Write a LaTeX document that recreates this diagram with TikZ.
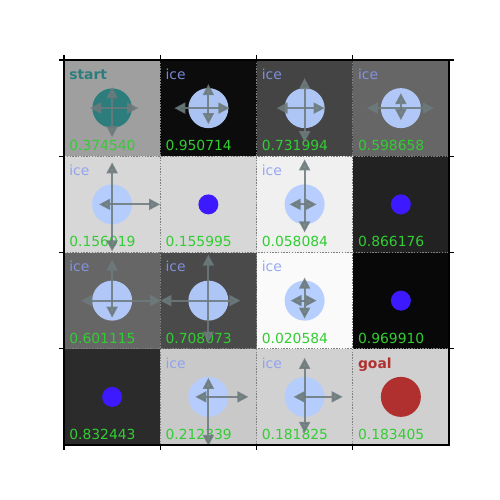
\documentclass[tikz,border=0pt]{standalone}
\usepackage{fontspec}
\setmainfont{DejaVu Sans}
\usepackage{xcolor}
\definecolor{startteal}{RGB}{46,125,125}
\definecolor{goalred}{RGB}{176,48,48}
\definecolor{holeblue}{RGB}{60,25,255}
\definecolor{icefill}{RGB}{180,205,255}
\definecolor{icetext}{RGB}{135,155,245}
\definecolor{valgreen}{RGB}{50,205,50}
\definecolor{arrowgray}{RGB}{108,122,124}
\usepackage{tikz}
\usetikzlibrary{arrows.meta}

\begin{document}
\begin{tikzpicture}[
  x=0.72pt, y=-0.72pt,
  font=\fontsize{10}{12}\selectfont,
  val/.style={anchor=base west,inner sep=0pt,text=valgreen},
  icelbl/.style={anchor=base west,inner sep=0pt,text=icetext,text opacity=0.85},
  startlbl/.style={anchor=base west,inner sep=0pt,text=startteal,font=\fontsize{10}{12}\selectfont\bfseries},
  goallbl/.style={anchor=base west,inner sep=0pt,text=goalred,font=\fontsize{10}{12}\selectfont\bfseries},
  icedisc/.style={fill=icefill,fill opacity=0.95},
  mv/.style={-{Triangle[length=8pt,width=8pt]},line width=1.5pt,draw=arrowgray,fill=arrowgray,opacity=0.85},
  gridln/.style={draw=gray,line width=0.5pt,dash pattern=on 1pt off 1pt},
  axtick/.style={draw=black,line width=0.8pt},
]
\useasboundingbox (0,0) rectangle (500,500);

% cell shading and values
\foreach \r/\c/\v in {0/0/0.374540,0/1/0.950714,0/2/0.731994,0/3/0.598658,
                      1/0/0.156019,1/1/0.155995,1/2/0.058084,1/3/0.866176,
                      2/0/0.601115,2/1/0.708073,2/2/0.020584,2/3/0.969910,
                      3/0/0.832443,3/1/0.212339,3/2/0.181825,3/3/0.183405}{
  \pgfmathsetmacro\gv{100*\v}
  \fill[black!\gv!white] ({64+96.25*\c},{60+96.25*\r}) rectangle ++(96.25,96.25);
  \node[val] (v\r\c) at ({69+96.25*\c},{150.7+96.25*\r}) {\v};
}

% dotted cell borders
\foreach \k in {1,2,3}{
  \draw[gridln] ({64+96.25*\k},60) -- ++(0,385);
  \draw[gridln] (64,{60+96.25*\k}) -- ++(385,0);
}

% ice cells
\foreach \r/\c in {0/1,0/2,0/3,1/0,1/2,2/0,2/1,2/2,3/1,3/2}{
  \fill[icedisc] ({112.125+96.25*\c},{108.125+96.25*\r}) circle[radius=14.4pt];
  \node[icelbl] (l\r\c) at ({69+96.25*\c},{79.3+96.25*\r}) {ice};
}

% start, goal and holes
\fill[startteal] (112.125,108.125) circle[radius=14.2pt];
\node[startlbl] (l00) at (69,79.3) {start};
\fill[goalred] (400.875,396.875) circle[radius=14.4pt];
\node[goallbl] (l33) at (357.75,368.05) {goal};
\foreach \r/\c in {1/1,1/3,2/3,3/0}
  \fill[holeblue] ({112.125+96.25*\c},{108.125+96.25*\r}) circle[radius=7.2pt];

% moves: up/down/left/right lengths
\foreach \r/\c/\u/\d/\l/\e in {0/0/21/29/22/26,0/1/24/16/34/21,0/2/30/34/28/20,0/3/15/12/34/33,
                               1/0/42/47/13/48,1/2/45/28/15/12,
                               2/0/41/17/31/49,2/1/46/42/48/32,2/2/23/18/14/12,
                               3/1/19/49/13/40,3/2/39/36/11/38}{
  \coordinate (m\r\c) at ({112.125+96.25*\c},{108.125+96.25*\r});
  \draw[mv] (m\r\c) -- ++(0,-\u);
  \draw[mv] (m\r\c) -- ++(0,\d);
  \draw[mv] (m\r\c) -- ++(-\l,0);
  \draw[mv] (m\r\c) -- ++(\e,0);
}

% frame and ticks
\draw[line width=0.8pt] (64,60) rectangle (449,445);
\foreach \t in {64,160.25,256.5,352.75}{
  \draw[axtick] (\t,60) -- ++(0,-4.86);
  \draw[axtick] (\t,445) -- ++(0,4.86);
}
\foreach \t in {60,156.25,252.5,348.75}{
  \draw[axtick] (64,\t) -- ++(-4.86,0);
  \draw[axtick] (449,\t) -- ++(4.86,0);
}
\end{tikzpicture}
\end{document}
